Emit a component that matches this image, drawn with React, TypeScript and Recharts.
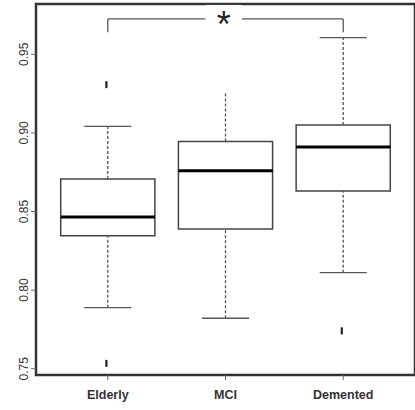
import React from 'react';
import {
  ComposedChart,
  XAxis,
  YAxis,
  Scatter,
  ReferenceArea,
  ReferenceLine,
  ReferenceDot,
} from 'recharts';

const categories = ['Elderly', 'MCI', 'Demented'];
const lowerWhisker = [0.7888, 0.7821, 0.8111];
const q1 = [0.8346, 0.8389, 0.863];
const median = [0.8465, 0.876, 0.891];
const q3 = [0.8707, 0.8945, 0.905];
const upperWhisker = [0.9041, 0.9262, 0.9606];
const upperCapShown = [true, false, true];
const outliers = [
  { x: 1, y: 0.9307 },
  { x: 1, y: 0.7534 },
  { x: 3, y: 0.7741 },
];
const yTicks = [0.75, 0.8, 0.85, 0.9, 0.95];
const yTickLabels = ['0.75', '0.80', '0.85', '0.90', '0.95'];

// significance bracket between Elderly (1) and Demented (3)
const bracketFrom = 1;
const bracketTo = 3;
const bracketTop = 0.9725;
const bracketLeg = 0.9641;
const bracketGap = [1.83, 2.14];
const bracketLabel = '*';

const FONT = '"Liberation Sans", Arial, Helvetica, sans-serif';
const BOX_HALF = 0.4;
const CAP_HALF = 0.2;
const X_DOMAIN: [number, number] = [0.39, 3.61];
const Y_DOMAIN: [number, number] = [0.746, 0.982];

const XTick = (props: any) => {
  const { x, y, payload } = props;
  const label = categories[Math.round(payload.value) - 1];
  return (
    <text
      x={x}
      y={y + 17}
      textAnchor="middle"
      fontSize={12.5}
      fontWeight="bold"
      fontFamily={FONT}
      fill="#333"
    >
      {label}
    </text>
  );
};

const YTick = (props: any) => {
  const { x, y, payload } = props;
  const idx = yTicks.indexOf(payload.value);
  const label = idx >= 0 ? yTickLabels[idx] : String(payload.value);
  return (
    <text
      transform={`translate(${x - 1},${y}) rotate(-90)`}
      textAnchor="middle"
      fontSize={12}
      fontFamily={FONT}
      fill="#333"
    >
      {label}
    </text>
  );
};

const OutlierShape = (props: any) => {
  const { cx, cy } = props;
  return <rect x={cx - 2.5} y={cy - 3.5} width={2.2} height={7} fill="#222" />;
};

const StarShape = (props: any) => {
  const { cx, cy } = props;
  return (
    <g>
      <rect x={cx - 18} y={cy - 14} width={36} height={30} fill="#fff" />
      <text
        x={cx}
        y={cy + 18}
        textAnchor="middle"
        fontSize={36}
        fontFamily={FONT}
        fill="#222"
      >
        {bracketLabel}
      </text>
    </g>
  );
};

export default function App() {
  return (
    <div style={{ position: 'absolute', left: 0, top: 0 }}>
      <ComposedChart
        width={415}
        height={410}
        margin={{ top: 4, right: 0, bottom: 0, left: 0 }}
        data={outliers}
        style={{ background: '#fff' }}
      >
        <XAxis
          type="number"
          dataKey="x"
          domain={X_DOMAIN}
          ticks={[1, 2, 3]}
          allowDataOverflow
          axisLine={false}
          tickLine={{ stroke: '#666', strokeWidth: 1 }}
          tickSize={5}
          height={35}
          tick={<XTick />}
        />
        <YAxis
          type="number"
          dataKey="y"
          domain={Y_DOMAIN}
          ticks={yTicks}
          allowDataOverflow
          axisLine={false}
          tickLine={{ stroke: '#666', strokeWidth: 1 }}
          tickSize={5}
          width={36}
          tick={<YTick />}
        />
        {/* frame */}
        <ReferenceArea
          x1={X_DOMAIN[0]}
          x2={X_DOMAIN[1]}
          y1={Y_DOMAIN[0]}
          y2={Y_DOMAIN[1]}
          fill="none"
          stroke="#333"
          strokeWidth={2.5}
          ifOverflow="extendDomain"
        />
        {categories.map((c, i) => {
          const x = i + 1;
          return (
            <ReferenceArea
              key={`box-${c}`}
              x1={x - BOX_HALF}
              x2={x + BOX_HALF}
              y1={q1[i]}
              y2={q3[i]}
              fill="#fff"
              fillOpacity={1}
              stroke="#444"
              strokeWidth={1.5}
            />
          );
        })}
        {categories.map((c, i) => {
          const x = i + 1;
          return (
            <ReferenceLine
              key={`wu-${c}`}
              segment={[
                { x, y: q3[i] },
                { x, y: upperWhisker[i] },
              ]}
              stroke="#555"
              strokeWidth={1.3}
              strokeDasharray="3 2"
            />
          );
        })}
        {categories.map((c, i) => {
          const x = i + 1;
          return (
            <ReferenceLine
              key={`wl-${c}`}
              segment={[
                { x, y: lowerWhisker[i] },
                { x, y: q1[i] },
              ]}
              stroke="#555"
              strokeWidth={1.3}
              strokeDasharray="3 2"
            />
          );
        })}
        {categories.map((c, i) => {
          const x = i + 1;
          return upperCapShown[i] ? (
            <ReferenceLine
              key={`cu-${c}`}
              segment={[
                { x: x - CAP_HALF, y: upperWhisker[i] },
                { x: x + CAP_HALF, y: upperWhisker[i] },
              ]}
              stroke="#555"
              strokeWidth={1.3}
            />
          ) : null;
        })}
        {categories.map((c, i) => {
          const x = i + 1;
          return (
            <ReferenceLine
              key={`cl-${c}`}
              segment={[
                { x: x - CAP_HALF, y: lowerWhisker[i] },
                { x: x + CAP_HALF, y: lowerWhisker[i] },
              ]}
              stroke="#555"
              strokeWidth={1.3}
            />
          );
        })}
        {categories.map((c, i) => {
          const x = i + 1;
          return (
            <ReferenceLine
              key={`med-${c}`}
              segment={[
                { x: x - BOX_HALF, y: median[i] },
                { x: x + BOX_HALF, y: median[i] },
              ]}
              stroke="#000"
              strokeWidth={3}
            />
          );
        })}
        {/* significance bracket */}
        <ReferenceLine
          segment={[
            { x: bracketFrom, y: bracketLeg },
            { x: bracketFrom, y: bracketTop },
          ]}
          stroke="#555"
          strokeWidth={1.3}
        />
        <ReferenceLine
          segment={[
            { x: bracketFrom, y: bracketTop },
            { x: bracketGap[0], y: bracketTop },
          ]}
          stroke="#555"
          strokeWidth={1.3}
        />
        <ReferenceLine
          segment={[
            { x: bracketGap[1], y: bracketTop },
            { x: bracketTo, y: bracketTop },
          ]}
          stroke="#555"
          strokeWidth={1.3}
        />
        <ReferenceLine
          segment={[
            { x: bracketTo, y: bracketTop },
            { x: bracketTo, y: bracketLeg },
          ]}
          stroke="#555"
          strokeWidth={1.3}
        />
        <ReferenceDot
          x={(bracketGap[0] + bracketGap[1]) / 2}
          y={bracketTop}
          r={0}
          shape={<StarShape />}
        />
        <Scatter
          data={outliers}
          dataKey="y"
          shape={<OutlierShape />}
          isAnimationActive={false}
        />
      </ComposedChart>
    </div>
  );
}
